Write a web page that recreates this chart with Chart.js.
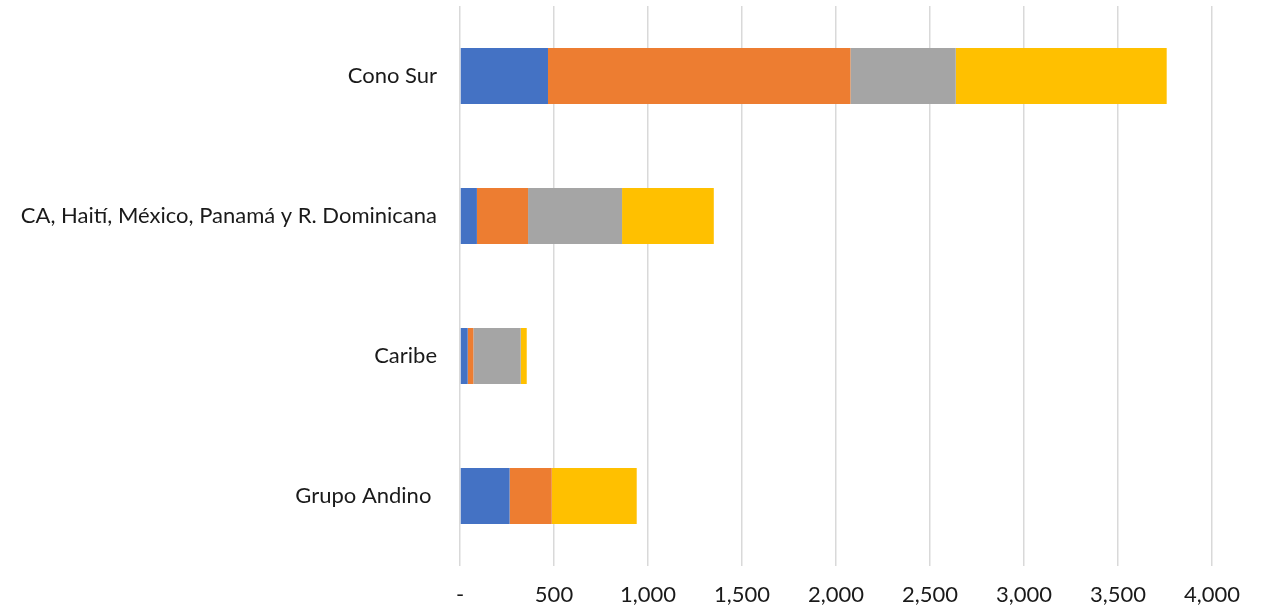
<!DOCTYPE html>
<html>
<head>
<meta charset="utf-8">
<script src="https://cdn.jsdelivr.net/npm/chart.js@4"></script>
<style>
  html, body { margin: 0; padding: 0; background: #fff; }
  #wrap { width: 1264px; height: 608px; position: relative; }
</style>
</head>
<body>
<div id="wrap"><canvas id="chart"></canvas></div>
<script>
const categories = ['Cono Sur', 'CA, Haití, México, Panamá y R. Dominicana', 'Caribe', 'Grupo Andino '];
const serie1 = [468, 90, 41, 264];
const serie2 = [1609, 272, 30, 224];
const serie3 = [560, 500, 252, 0];
const serie4 = [1122, 488, 32, 452];
const xTicks = [0, 500, 1000, 1500, 2000, 2500, 3000, 3500, 4000];

const colors = ['#4472c4', '#ed7d31', '#a5a5a5', '#ffc000'];
const series = [serie1, serie2, serie3, serie4];

const ctx = document.getElementById('chart').getContext('2d');
new Chart(ctx, {
  type: 'bar',
  data: {
    labels: categories,
    datasets: series.map((values, i) => ({
      label: 'Serie ' + (i + 1),
      data: values,
      backgroundColor: colors[i],
      borderWidth: 0,
      categoryPercentage: 1,
      barPercentage: 0.4,
    })),
  },
  options: {
    indexAxis: 'y',
    responsive: true,
    maintainAspectRatio: false,
    animation: false,
    layout: { padding: { top: 6, right: 52, left: 0, bottom: 0 } },
    plugins: { legend: { display: false }, tooltip: { enabled: false } },
    scales: {
      x: {
        stacked: true,
        min: 0,
        max: 4000,
        afterBuildTicks(scale) {
          scale.ticks = xTicks.map(v => ({ value: v }));
        },
        afterFit(scale) {
          scale.height = 42;
          scale.paddingLeft = 0;
          scale.paddingRight = 0;
        },
        grid: { color: '#d9d9d9', lineWidth: 1.5, drawTicks: false },
        border: { display: false },
        ticks: {
          padding: 16,
          color: '#1a1a1a',
          maxRotation: 0,
          font: { family: 'Lato', size: 22 },
          callback: v => (v === 0 ? '-' : v.toLocaleString('en-US')),
        },
      },
      y: {
        stacked: true,
        afterFit(scale) {
          scale.width = 460;
          scale.paddingTop = 0;
          scale.paddingBottom = 0;
        },
        grid: { display: false, drawTicks: false },
        border: { display: false },
        ticks: {
          padding: 23,
          color: '#1a1a1a',
          font: { family: 'Lato', size: 22 },
        },
      },
    },
  },
});
</script>
</body>
</html>
